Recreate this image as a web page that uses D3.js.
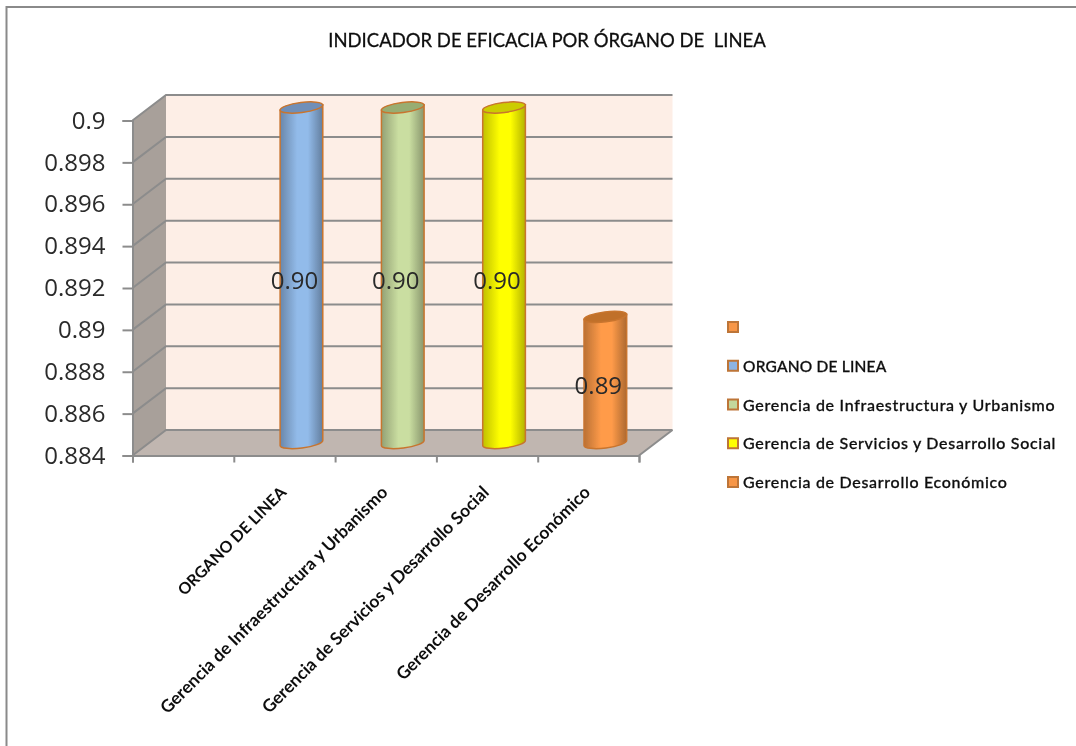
<!DOCTYPE html>
<html>
<head>
<meta charset="utf-8">
<script src="https://cdn.jsdelivr.net/npm/d3@7/dist/d3.min.js"></script>
<style>
  html, body { margin: 0; background: #fff; }
  svg { display: block; }
  text { font-family: Lato, sans-serif; fill: #111; }
  .tick-label, .value-label { font-family: "Open Sans", sans-serif; font-size: 24px; fill: #2a2a2a; }
</style>
</head>
<body>
<svg id="chart" width="1076" height="746"></svg>
<script>
const title = "INDICADOR DE EFICACIA POR ÓRGANO DE  LINEA";
const categories = ["", "ORGANO DE LINEA", "Gerencia de Infraestructura y Urbanismo",
    "Gerencia de Servicios y Desarrollo Social", "Gerencia de Desarrollo Económico"];
const values = [null, 0.9, 0.9, 0.9, 0.89];
const valueLabels = ["", "0.90", "0.90", "0.90", "0.89"];
const colors = ["#f79646", "#8db4e2", "#c3d69b", "#ffff00", "#f79646"];
const topColors = ["#c0702c", "#6f8fb8", "#98ad72", "#cccc00", "#c0702c"];
const ticks = [0.884, 0.886, 0.888, 0.89, 0.892, 0.894, 0.896, 0.898, 0.9];

const svg = d3.select("#chart");
const defs = svg.append("defs");
defs.append("filter").attr("id", "soft")
    .attr("filterUnits", "userSpaceOnUse")
    .attr("x", 0).attr("y", 0).attr("width", 1076).attr("height", 746)
    .append("feGaussianBlur").attr("stdDeviation", 0.4);
const g = svg.append("g").attr("filter", "url(#soft)");

// front plane of the 3d box, the back wall is the same thing shifted
const x = d3.scaleBand().domain(d3.range(categories.length)).range([132.5, 639]);
const y = d3.scaleLinear().domain([0.884, 0.9]).range([455.5, 120.5]);
const depthX = 33.5, depthY = -25.5;
const lineColor = "#8c8c8c";

// outer frame
g.append("path")
    .attr("d", "M1076,7H6.5V746")
    .attr("fill", "none").attr("stroke", "#8a8a8a").attr("stroke-width", 2);

g.append("text")
    .attr("x", 547).attr("y", 47)
    .attr("text-anchor", "middle")
    .style("font-size", "18.5px")
    .style("stroke", "#111")
    .style("stroke-width", 0.3)
    .style("white-space", "pre")
    .text(title);

// walls
const x0 = x.range()[0], x1 = x.range()[1];
const yBottom = y.range()[0], yTop = y.range()[1];
g.append("rect")
    .attr("x", x0 + depthX).attr("y", yTop + depthY)
    .attr("width", x1 - x0).attr("height", yBottom - yTop)
    .attr("fill", "#fdeee6");
g.append("path")
    .attr("d", `M${x0},${yBottom}L${x0},${yTop}L${x0 + depthX},${yTop + depthY}L${x0 + depthX},${yBottom + depthY}Z`)
    .attr("fill", "#a8a09a");
g.append("path")
    .attr("d", `M${x0},${yBottom}L${x1},${yBottom}L${x1 + depthX},${yBottom + depthY}L${x0 + depthX},${yBottom + depthY}Z`)
    .attr("fill", "#c0b6b0");

// gridlines run along the side wall then the back wall
g.append("g").selectAll("path")
    .data(ticks)
    .join("path")
    .attr("d", d => `M${x0},${y(d)}L${x0 + depthX},${y(d) + depthY}H${x1 + depthX}`)
    .attr("fill", "none")
    .attr("stroke", lineColor)
    .attr("stroke-width", 2);
g.append("path")
    .attr("d", `M${x1},${yBottom}L${x1 + depthX},${yBottom + depthY}`)
    .attr("fill", "none").attr("stroke", lineColor).attr("stroke-width", 2);

// axes
const yAxis = g.append("g")
    .attr("transform", `translate(${x0},0)`)
    .call(d3.axisLeft(y).tickValues(ticks).tickSize(10).tickFormat(d3.format("~r")));
yAxis.selectAll("text").attr("class", "tick-label").attr("x", -27).style("font-size", null).style("font-family", null);
yAxis.attr("font-size", null).attr("font-family", null);
const xAxis = g.append("g")
    .attr("transform", `translate(0,${yBottom})`)
    .call(d3.axisBottom(d3.scaleLinear().domain([0, categories.length]).range([x0, x1]))
        .ticks(categories.length).tickSize(7).tickFormat(""));
g.selectAll(".domain").attr("stroke", lineColor).attr("stroke-width", 2);
g.selectAll(".tick line").attr("stroke", lineColor).attr("stroke-width", 2);

// x labels, rotated and ending under the band centre
g.append("g").selectAll("text")
    .data(categories)
    .join("text")
    .attr("transform", (d, i) => `translate(${x(i) + x.bandwidth() / 2 + 3},${yBottom + 38}) rotate(-45)`)
    .attr("text-anchor", "end")
    .style("font-size", d => d === d.toUpperCase() ? "16px" : "17.4px")
    .style("font-weight", 700)
    .text(d => d);

// cylinders
const r = 21.5, ry = 5, tilt = -7;
const bars = categories.map((c, i) => ({i, v: values[i]})).filter(d => d.v !== null);
bars.forEach(d => {
    const grad = defs.append("linearGradient").attr("id", "cyl" + d.i);
    const base = d3.color(colors[d.i]);
    grad.append("stop").attr("offset", "0%").attr("stop-color", base.darker(0.8));
    grad.append("stop").attr("offset", "40%").attr("stop-color", base.brighter(0.1));
    grad.append("stop").attr("offset", "65%").attr("stop-color", base.brighter(0.1));
    grad.append("stop").attr("offset", "100%").attr("stop-color", base.darker(1));
});
const bar = g.append("g").selectAll("g")
    .data(bars)
    .join("g")
    .attr("transform", d => `translate(${x(d.i) + x.bandwidth() / 2 + 17},0)`);

// end points of the tilted ellipse's long axis
const dx = r * Math.cos(tilt * Math.PI / 180);
const lift = r * Math.sin(-tilt * Math.PI / 180);
const topY = d => y(d.v) - 13;
const baseY = yBottom - 12.5;
bar.append("path")
    .attr("d", d => `M${-dx},${topY(d) + lift}L${-dx},${baseY + lift}A${r},${ry} ${tilt} 0 0 ${dx},${baseY - lift}L${dx},${topY(d) - lift}Z`)
    .attr("fill", d => `url(#cyl${d.i})`)
    .attr("stroke", "#c8742e")
    .attr("stroke-width", 1.5);
bar.append("ellipse")
    .attr("cx", 0)
    .attr("cy", topY)
    .attr("rx", r).attr("ry", ry)
    .attr("transform", d => `rotate(${tilt},0,${topY(d)})`)
    .attr("fill", d => topColors[d.i])
    .attr("stroke", "#c8742e")
    .attr("stroke-width", 1.5);
bar.append("text")
    .attr("class", "value-label")
    .attr("x", -7)
    .attr("y", d => (topY(d) + baseY) / 2 + 14)
    .attr("text-anchor", "middle")
    .text(d => valueLabels[d.i]);

// legend
const legendY = d3.scalePoint().domain(d3.range(categories.length)).range([327, 482]);
const legend = g.append("g").selectAll("g")
    .data(categories.map((c, i) => i))
    .join("g")
    .attr("transform", i => `translate(728,${legendY(i)})`);
legend.append("rect")
    .attr("x", 0).attr("y", -5).attr("width", 10).attr("height", 10)
    .attr("fill", i => colors[i])
    .attr("stroke", "#bd7437")
    .attr("stroke-width", 2);
legend.append("text")
    .attr("x", 15).attr("y", 6)
    .style("font-size", i => categories[i] === categories[i].toUpperCase() ? "15.5px" : "16px")
    .style("font-weight", 500)
    .style("stroke", "#111")
    .style("stroke-width", 0.3)
    .style("letter-spacing", i => categories[i] === categories[i].toUpperCase() ? "0.2px" : "0.7px")
    .text(i => categories[i]);
</script>
</body>
</html>
